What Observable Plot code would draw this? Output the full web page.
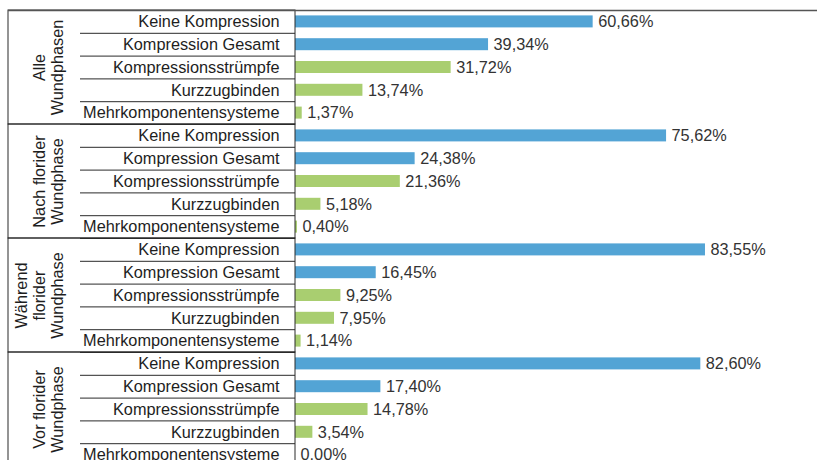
<!DOCTYPE html>
<html>
<head>
<meta charset="utf-8">
<script src="https://cdn.jsdelivr.net/npm/d3@7"></script>
<script src="https://cdn.jsdelivr.net/npm/@observablehq/plot@0.6"></script>
<style>
  html, body { margin: 0; padding: 0; background: #fff; overflow: hidden; }
</style>
</head>
<body>
<div id="chart"></div>
<script>
// ---- data ----
const groups = ["Alle Wundphasen", "Nach florider Wundphase", "Während florider Wundphase", "Vor florider Wundphase"];
const groupLabels = ["Alle\nWundphasen", "Nach florider\nWundphase", "Während\nflorider\nWundphase", "Vor florider\nWundphase"];
const categories = ["Keine Kompression", "Kompression Gesamt", "Kompressionsstrümpfe", "Kurzzugbinden", "Mehrkomponentensysteme"];
const alleWundphasen = [60.66, 39.34, 31.72, 13.74, 1.37];
const nachFlorider = [75.62, 24.38, 21.36, 5.18, 0.40];
const waehrendFlorider = [83.55, 16.45, 9.25, 7.95, 1.14];
const vorFlorider = [82.60, 17.40, 14.78, 3.54, 0.00];
const categoryKind = ["Übersicht", "Übersicht", "Art", "Art", "Art"];

// ---- build table ----
const seriesValues = [alleWundphasen, nachFlorider, waehrendFlorider, vorFlorider];
const nCat = categories.length;
const rows = [];
groups.forEach((g, gi) => {
  categories.forEach((c, ci) => {
    rows.push({group: g, category: c, value: seriesValues[gi][ci], kind: categoryKind[ci], idx: gi * nCat + ci});
  });
});
const groupRows = groups.map((g, gi) => ({group: g, label: groupLabels[gi], start: gi * nCat, end: gi * nCat + nCat}));

// ---- layout (x in value units, left panel extends into negative values) ----
const pxPerUnit = 4.907;
const x0px = 295;
const toX = px => (px - x0px) / pxPerUnit;
const xLeft = toX(8), xBox = toX(80), xRight = toX(817), xGroupLabel = toX(62);
const fmt = v => v.toFixed(2).replace(".", ",") + "%";
const font = "'Liberation Sans', Arial, Helvetica, sans-serif";

const chart = Plot.plot({
  width: 817,
  height: 460,
  margin: 0,
  style: {fontFamily: font, fontSize: "16.3px", background: "#fff"},
  x: {domain: [0, 100], range: [x0px, x0px + 100 * pxPerUnit], axis: null},
  y: {domain: [0, groups.length * nCat], range: [10, 466], axis: null},
  color: {type: "ordinal", domain: ["Übersicht", "Art"], range: ["#53a4d5", "#a9ce70"]},
  marks: [
    Plot.rect(rows, {x1: 0, x2: "value", y1: "idx", y2: d => d.idx + 1, insetTop: 5.4, insetBottom: 5.4, fill: "kind"}),
    Plot.ruleY(rows, {y: "idx", x1: xBox, x2: 0, stroke: "#2a2a2a", strokeWidth: 1}),
    Plot.rect(groupRows, {x1: xLeft, x2: 0, y1: "start", y2: "end", fill: "none", stroke: "#2a2a2a", strokeWidth: 1}),
    Plot.ruleY([0], {x1: xLeft, x2: xRight, stroke: "#555", strokeWidth: 1.6}),
    Plot.text(rows, {x: 0, y: d => d.idx + 0.5, text: "category", textAnchor: "end", dx: -16, fill: "#1e1e1e", fontSize: 16.3}),
    Plot.text(rows, {x: "value", y: d => d.idx + 0.5, text: d => fmt(d.value), textAnchor: "start", dx: 5, fill: "#333", fontSize: 16.3}),
    Plot.text(groupRows, {x: xGroupLabel, y: d => (d.start + d.end) / 2, text: "label", rotate: -90, lineAnchor: "bottom", lineHeight: 1.1, textAnchor: "middle", fill: "#1e1e1e", fontSize: 16.3})
  ]
});
document.getElementById("chart").appendChild(chart);
</script>
</body>
</html>
